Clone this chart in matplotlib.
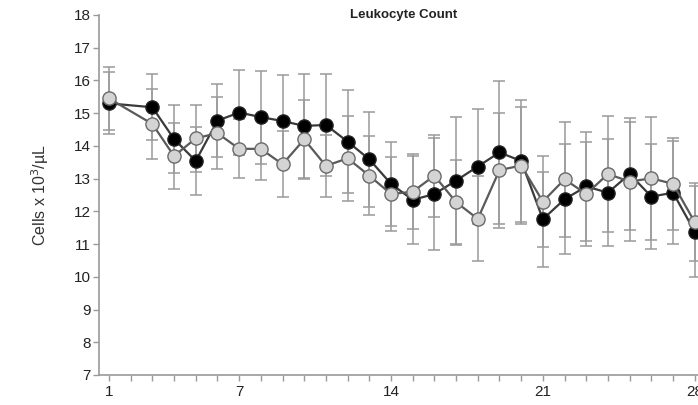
"""
Leukocyte count over days, two groups with error bars
"""
import matplotlib
matplotlib.use('Agg')
import matplotlib.pyplot as plt
import numpy as np

plt.rcParams['font.family'] = ['Liberation Sans', 'DejaVu Sans']

days = [1, 3, 4, 5, 6, 7, 8, 9, 10, 11, 12, 13, 14, 15, 16, 17, 18, 19, 20,
        21, 22, 23, 24, 25, 26, 27, 28]

black_mean = [15.30, 15.18, 14.21, 13.54, 14.77, 15.02, 14.88, 14.76, 14.61,
              14.64, 14.13, 13.59, 12.84, 12.35, 12.53, 12.94, 13.37, 13.80,
              13.54, 11.76, 12.37, 12.76, 12.57, 13.14, 12.45, 12.57, 11.38]
black_err = [0.95, 1.01, 1.03, 1.05, 1.11, 1.30, 1.42, 1.41, 1.58, 1.55, 1.58,
             1.46, 1.29, 1.35, 1.72, 1.93, 1.75, 2.19, 1.86, 1.45, 1.68, 1.67,
             1.64, 1.70, 1.60, 1.57, 1.38]

gray_mean = [15.45, 14.67, 13.69, 14.23, 14.39, 13.91, 13.91, 13.44, 14.20,
             13.39, 13.62, 13.09, 12.53, 12.60, 13.09, 12.28, 11.77, 13.26,
             13.40, 12.30, 12.98, 12.53, 13.14, 12.91, 13.01, 12.84, 11.67]
gray_err = [0.95, 1.08, 1.02, 1.03, 1.10, 0.90, 0.95, 1.00, 1.20, 0.95, 1.30,
            1.20, 1.14, 1.15, 1.25, 1.30, 1.30, 1.76, 1.80, 1.40, 1.76, 1.60,
            1.78, 1.83, 1.88, 1.40, 1.20]

fig = plt.figure(figsize=(6.98, 4.05), dpi=100)
ax = fig.add_axes([0.1418, 0.0741, 0.8582, 0.8889])

err_kw = dict(fmt='none', ecolor='#9a9a9a', elinewidth=1.1, capsize=4.5,
              capthick=1.1, zorder=1)
ax.errorbar(days, black_mean, yerr=black_err, **err_kw)
ax.errorbar(days, gray_mean, yerr=gray_err, **err_kw)

ax.plot(days, black_mean, '-o', color='#3a3a3a', lw=1.6, ms=9.5,
        mfc='black', mec='#222222', mew=1.0, zorder=3)
ax.plot(days, gray_mean, '-o', color='#5a5a5a', lw=1.6, ms=9.5,
        mfc='#d4d4d4', mec='#6a6a6a', mew=1.0, zorder=4)

ax.set_xlim(0.54, 28.15)
ax.set_ylim(7, 18)
ax.set_yticks(range(7, 19))
ax.set_xticks([1, 7, 14, 21, 28])
ax.set_xticks(range(1, 29), minor=True)

for s in ['top', 'right']:
    ax.spines[s].set_visible(False)
for s in ['left', 'bottom']:
    ax.spines[s].set_color('#9a9a9a')
    ax.spines[s].set_linewidth(1.2)

ax.tick_params(axis='both', which='both', color='#9a9a9a', length=4,
               width=1, labelsize=11, labelcolor='#222222')
ax.tick_params(axis='y', pad=2)
ax.tick_params(axis='x', pad=3)

ax.set_ylabel('Cells x 10$^3$/µL', fontsize=11.5, color='#333333', labelpad=16)
fig.text(0.578, 0.962, 'Leukocyte Count', ha='center', va='center',
         fontsize=9.5, fontweight='bold', color='#222222')

fig.savefig('out.png', dpi=100)
